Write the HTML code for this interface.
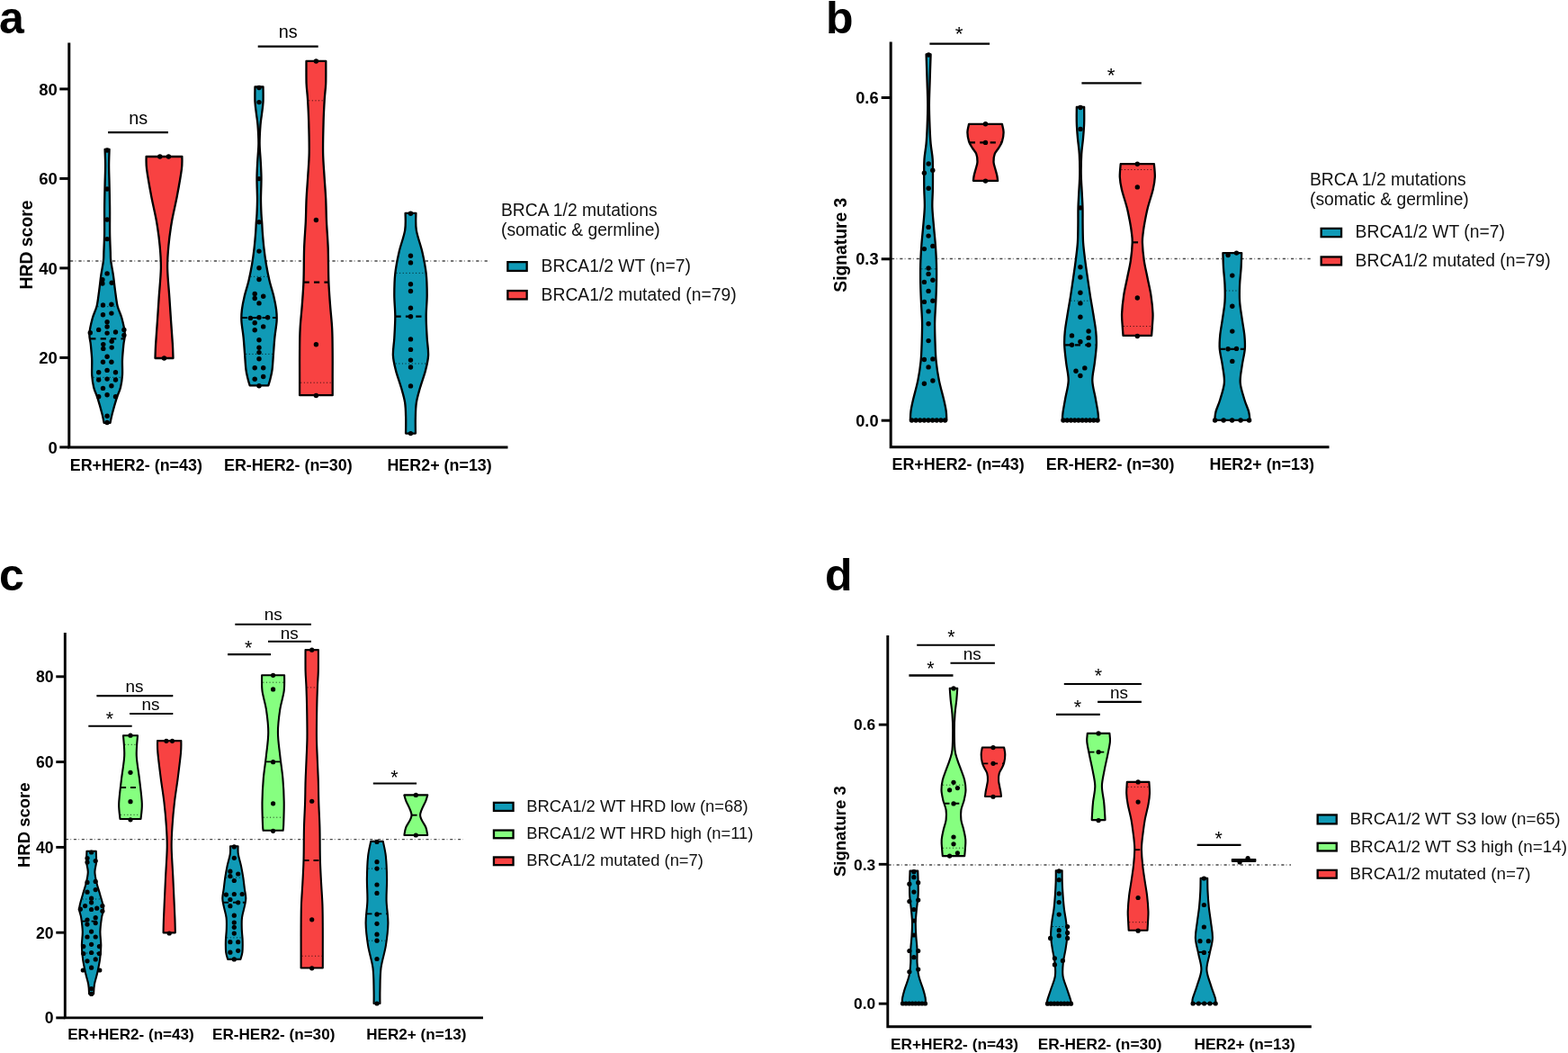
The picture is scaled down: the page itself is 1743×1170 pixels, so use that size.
<!DOCTYPE html>
<html><head><meta charset="utf-8"><title>Violin plots</title>
<style>
html,body{margin:0;padding:0;background:#fff;}
svg{display:block;filter:blur(0.45px);}
text{font-family:"Liberation Sans",Arial,Helvetica,sans-serif;}
</style></head><body>
<svg width="1743" height="1170" viewBox="0 0 1743 1170">
<rect width="1743" height="1170" fill="#fff"/>
<text x="-1" y="37" font-size="50" font-weight="bold" text-anchor="start" fill="#000">a</text>
<line x1="78" y1="290.1" x2="544" y2="290.1" stroke="#484848" stroke-width="1.5" stroke-dasharray="3.24 6.16"/>
<line x1="78" y1="290.1" x2="544" y2="290.1" stroke="#9a9a9a" stroke-width="1.5" stroke-dasharray="1.3 8.1" stroke-dashoffset="-5.26"/>
<path d="M116.6,166 L121.6,166 C121.52,169 121.1,177.5 121.1,184 C121.1,190.5 121.43,197 121.6,205 C121.77,213 122.02,223 122.1,232 C122.18,241 121.98,251 122.1,259 C122.22,267 122.62,274.83 122.82,280 C123.01,285.17 122.76,285.73 123.27,290 C123.78,294.27 125.09,300.13 125.88,305.6 C126.67,311.07 127.21,317.07 128,322.8 C128.79,328.53 129.37,334.88 130.6,340 C131.83,345.12 134.03,348.4 135.4,353.5 C136.77,358.6 138.47,365.75 138.8,370.6 C139.13,375.45 137.87,377.75 137.4,382.6 C136.93,387.45 136.23,394 136,399.7 C135.77,405.4 136.33,411.68 136,416.8 C135.67,421.92 135.05,426.13 134,430.4 C132.95,434.67 131.23,437.55 129.7,442.4 C128.17,447.25 125.99,454.93 124.8,459.5 C123.61,464.07 122.92,468.08 122.55,469.8 L115.65,469.8 C115.27,468.08 114.59,464.07 113.4,459.5 C112.21,454.93 110.03,447.25 108.5,442.4 C106.97,437.55 105.25,434.67 104.2,430.4 C103.15,426.13 102.53,421.92 102.2,416.8 C101.87,411.68 102.43,405.4 102.2,399.7 C101.97,394 101.27,387.45 100.8,382.6 C100.33,377.75 99.07,375.45 99.4,370.6 C99.73,365.75 101.43,358.6 102.8,353.5 C104.17,348.4 106.37,345.12 107.6,340 C108.83,334.88 109.41,328.53 110.2,322.8 C110.99,317.07 111.53,311.07 112.32,305.6 C113.11,300.13 114.42,294.27 114.93,290 C115.44,285.73 115.19,285.17 115.38,280 C115.57,274.83 115.98,267 116.1,259 C116.22,251 116.02,241 116.1,232 C116.18,223 116.43,213 116.6,205 C116.77,197 117.1,190.5 117.1,184 C117.1,177.5 116.68,169 116.6,166 Z" fill="#109AB6" stroke="#000" stroke-width="2.3" stroke-linejoin="round"/>
<line x1="108.5" y1="340.7" x2="129.7" y2="340.7" stroke="#000" stroke-width="1" stroke-dasharray="1 2.6" opacity="0.8"/>
<line x1="103.72" y1="419.3" x2="134.48" y2="419.3" stroke="#000" stroke-width="1" stroke-dasharray="1 2.6" opacity="0.8"/>
<line x1="100.26" y1="376.3" x2="137.94" y2="376.3" stroke="#000" stroke-width="2.2" stroke-dasharray="6.2 5.2"/>
<circle cx="119.1" cy="167" r="2.7"/>
<circle cx="119.1" cy="210" r="2.7"/>
<circle cx="119.1" cy="244" r="2.7"/>
<circle cx="119.1" cy="265.6" r="2.7"/>
<circle cx="119.1" cy="303.9" r="2.7"/>
<circle cx="113.9" cy="310.8" r="2.7"/>
<circle cx="113.9" cy="315" r="2.7"/>
<circle cx="124.2" cy="314.2" r="2.7"/>
<circle cx="114.5" cy="339" r="2.7"/>
<circle cx="123.9" cy="338.2" r="2.7"/>
<circle cx="114.5" cy="349.8" r="2.7"/>
<circle cx="123.9" cy="348.1" r="2.7"/>
<circle cx="119.1" cy="357.8" r="2.7"/>
<circle cx="119.1" cy="363" r="2.7"/>
<circle cx="109.7" cy="366.4" r="2.7"/>
<circle cx="100.3" cy="369.8" r="2.7"/>
<circle cx="119.1" cy="370.1" r="2.7"/>
<circle cx="128.5" cy="369" r="2.7"/>
<circle cx="137.9" cy="366.4" r="2.7"/>
<circle cx="137.9" cy="372.4" r="2.7"/>
<circle cx="114.8" cy="382.6" r="2.7"/>
<circle cx="114.8" cy="387.4" r="2.7"/>
<circle cx="124.2" cy="379.2" r="2.7"/>
<circle cx="124.2" cy="386.1" r="2.7"/>
<circle cx="119.1" cy="396.3" r="2.7"/>
<circle cx="114.5" cy="402.3" r="2.7"/>
<circle cx="123.9" cy="402.3" r="2.7"/>
<circle cx="109.7" cy="413.8" r="2.7"/>
<circle cx="119.1" cy="411.4" r="2.7"/>
<circle cx="128.5" cy="413.8" r="2.7"/>
<circle cx="109.7" cy="422" r="2.7"/>
<circle cx="119.1" cy="421.1" r="2.7"/>
<circle cx="128.5" cy="422" r="2.7"/>
<circle cx="114.5" cy="431.4" r="2.7"/>
<circle cx="123.9" cy="428.8" r="2.7"/>
<circle cx="109.7" cy="440.8" r="2.7"/>
<circle cx="119.1" cy="438.7" r="2.7"/>
<circle cx="128.5" cy="440.8" r="2.7"/>
<circle cx="119.1" cy="462.2" r="2.7"/>
<circle cx="119.1" cy="469.5" r="2.7"/>
<path d="M162.6,174 L202.4,174 C202.32,176.33 202.83,180.67 201.9,188 C200.97,195.33 198.62,208.33 196.8,218 C194.98,227.67 192.57,236.83 191,246 C189.43,255.17 188.2,264.33 187.39,273 C186.58,281.67 185.97,288.33 186.13,298 C186.29,307.67 187.72,321.17 188.38,331 C189.04,340.83 189.51,348.4 190.1,357 C190.69,365.6 191.5,375.77 191.9,382.6 C192.3,389.43 192.4,395.43 192.5,398 L172.5,398 C172.6,395.43 172.7,389.43 173.1,382.6 C173.5,375.77 174.31,365.6 174.9,357 C175.49,348.4 175.96,340.83 176.62,331 C177.28,321.17 178.71,307.67 178.87,298 C179.03,288.33 178.42,281.67 177.61,273 C176.8,264.33 175.57,255.17 174,246 C172.43,236.83 170.02,227.67 168.2,218 C166.38,208.33 164.03,195.33 163.1,188 C162.17,180.67 162.68,176.33 162.6,174 Z" fill="#F84242" stroke="#000" stroke-width="2.3" stroke-linejoin="round"/>
<circle cx="177.8" cy="174" r="2.7"/>
<circle cx="187.4" cy="174" r="2.7"/>
<circle cx="182.5" cy="398" r="2.7"/>
<path d="M283.47,96.5 L292.53,96.5 C292.53,99.28 292.78,108.13 292.53,113.2 C292.27,118.27 291.5,122.62 291,126.9 C290.5,131.18 289.9,133.48 289.5,138.9 C289.1,144.32 288.55,152.55 288.6,159.4 C288.65,166.25 289.48,173.47 289.8,180 C290.12,186.53 290.47,191.77 290.5,198.6 C290.53,205.43 290,214.43 290,221 C290,227.57 290.29,233.5 290.5,238 C290.71,242.5 291.05,244.67 291.27,248 C291.49,251.33 291.45,253.35 291.81,258 C292.17,262.65 292.75,269.93 293.43,275.9 C294.11,281.87 294.89,287.82 295.9,293.8 C296.91,299.78 298.08,305.82 299.5,311.8 C300.92,317.78 303.13,324.33 304.4,329.7 C305.67,335.07 306.57,339.52 307.1,344 C307.63,348.48 307.88,351.5 307.6,356.6 C307.32,361.7 306,368.62 305.4,374.6 C304.8,380.58 304.47,386.52 304,392.5 C303.53,398.48 303.2,405.72 302.6,410.5 C302,415.28 301.12,418.22 300.4,421.2 C299.68,424.18 298.65,427.2 298.3,428.4 L277.7,428.4 C277.35,427.2 276.32,424.18 275.6,421.2 C274.88,418.22 274,415.28 273.4,410.5 C272.8,405.72 272.47,398.48 272,392.5 C271.53,386.52 271.2,380.58 270.6,374.6 C270,368.62 268.68,361.7 268.4,356.6 C268.12,351.5 268.37,348.48 268.9,344 C269.43,339.52 270.33,335.07 271.6,329.7 C272.87,324.33 275.08,317.78 276.5,311.8 C277.92,305.82 279.09,299.78 280.1,293.8 C281.11,287.82 281.89,281.87 282.57,275.9 C283.25,269.93 283.83,262.65 284.19,258 C284.55,253.35 284.51,251.33 284.73,248 C284.95,244.67 285.29,242.5 285.5,238 C285.71,233.5 286,227.57 286,221 C286,214.43 285.47,205.43 285.5,198.6 C285.53,191.77 285.88,186.53 286.2,180 C286.52,173.47 287.35,166.25 287.4,159.4 C287.45,152.55 286.9,144.32 286.5,138.9 C286.1,133.48 285.5,131.18 285,126.9 C284.5,122.62 283.73,118.27 283.47,113.2 C283.22,108.13 283.47,99.28 283.47,96.5 Z" fill="#109AB6" stroke="#000" stroke-width="2.3" stroke-linejoin="round"/>
<line x1="278.55" y1="307.3" x2="297.45" y2="307.3" stroke="#000" stroke-width="1" stroke-dasharray="1 2.6" opacity="0.8"/>
<line x1="273.22" y1="393.4" x2="302.78" y2="393.4" stroke="#000" stroke-width="1" stroke-dasharray="1 2.6" opacity="0.8"/>
<line x1="268.74" y1="353" x2="307.26" y2="353" stroke="#000" stroke-width="2.2" stroke-dasharray="6.2 5.2"/>
<circle cx="288" cy="97.5" r="2.7"/>
<circle cx="288" cy="113.6" r="2.7"/>
<circle cx="288" cy="198.6" r="2.7"/>
<circle cx="288" cy="246.8" r="2.7"/>
<circle cx="288" cy="279.1" r="2.7"/>
<circle cx="288" cy="297.8" r="2.7"/>
<circle cx="288" cy="310.5" r="2.7"/>
<circle cx="283.2" cy="326.5" r="2.7"/>
<circle cx="283.2" cy="331.5" r="2.7"/>
<circle cx="292.7" cy="329.2" r="2.7"/>
<circle cx="288" cy="336.9" r="2.7"/>
<circle cx="278.4" cy="353.4" r="2.7"/>
<circle cx="288" cy="352.7" r="2.7"/>
<circle cx="297.6" cy="352.7" r="2.7"/>
<circle cx="283.2" cy="358.8" r="2.7"/>
<circle cx="292.7" cy="362.9" r="2.7"/>
<circle cx="283.2" cy="366.7" r="2.7"/>
<circle cx="288" cy="377.8" r="2.7"/>
<circle cx="288" cy="386.2" r="2.7"/>
<circle cx="288" cy="391.6" r="2.7"/>
<circle cx="288" cy="398.8" r="2.7"/>
<circle cx="283.2" cy="408.7" r="2.7"/>
<circle cx="292.7" cy="408.7" r="2.7"/>
<circle cx="283.2" cy="421.2" r="2.7"/>
<circle cx="292.7" cy="418.5" r="2.7"/>
<circle cx="288" cy="428.8" r="2.7"/>
<path d="M340.5,67.9 L362.3,67.9 C362.28,72.03 362.45,85.72 362.2,92.7 C361.95,99.68 361.23,102.68 360.8,109.8 C360.37,116.92 359.88,125.43 359.6,135.4 C359.32,145.37 358.95,159.63 359.1,169.6 C359.25,179.57 359.98,186.65 360.5,195.2 C361.02,203.75 361.78,212.35 362.2,220.9 C362.62,229.45 362.58,237.33 363,246.5 C363.42,255.67 364.32,265.02 364.7,275.9 C365.08,286.78 364.92,301.33 365.3,311.8 C365.68,322.27 366.35,329.73 367,338.7 C367.65,347.67 368.75,356.63 369.2,365.6 C369.65,374.57 369.62,383.53 369.7,392.5 C369.78,401.47 369.7,411.62 369.7,419.4 C369.7,427.18 369.7,435.9 369.7,439.2 L333.1,439.2 C333.1,435.9 333.1,427.18 333.1,419.4 C333.1,411.62 333.02,401.47 333.1,392.5 C333.18,383.53 333.15,374.57 333.6,365.6 C334.05,356.63 335.15,347.67 335.8,338.7 C336.45,329.73 337.12,322.27 337.5,311.8 C337.88,301.33 337.72,286.78 338.1,275.9 C338.48,265.02 339.38,255.67 339.8,246.5 C340.22,237.33 340.18,229.45 340.6,220.9 C341.02,212.35 341.78,203.75 342.3,195.2 C342.82,186.65 343.55,179.57 343.7,169.6 C343.85,159.63 343.48,145.37 343.2,135.4 C342.92,125.43 342.43,116.92 342,109.8 C341.57,102.68 340.85,99.68 340.6,92.7 C340.35,85.72 340.52,72.03 340.5,67.9 Z" fill="#F84242" stroke="#000" stroke-width="2.3" stroke-linejoin="round"/>
<line x1="343.24" y1="111.8" x2="359.56" y2="111.8" stroke="#000" stroke-width="1" stroke-dasharray="1 2.6" opacity="0.8"/>
<line x1="334.25" y1="425.2" x2="368.55" y2="425.2" stroke="#000" stroke-width="1" stroke-dasharray="1 2.6" opacity="0.8"/>
<line x1="337.59" y1="313.6" x2="365.21" y2="313.6" stroke="#000" stroke-width="2.2" stroke-dasharray="6.2 5.2"/>
<circle cx="351.4" cy="68" r="2.7"/>
<circle cx="351.4" cy="244.5" r="2.7"/>
<circle cx="351.4" cy="382.7" r="2.7"/>
<circle cx="351.4" cy="439.5" r="2.7"/>
<path d="M450.62,236.8 L462.38,236.8 C462.45,239.98 461.66,248.72 462.83,255.9 C464,263.08 467.59,271.92 469.4,279.9 C471.21,287.88 472.82,295.82 473.7,303.8 C474.58,311.78 474.7,319.82 474.7,327.8 C474.7,335.78 473.7,343.72 473.7,351.7 C473.7,359.68 474.3,368.5 474.7,375.7 C475.1,382.9 476.38,388.92 476.1,394.9 C475.82,400.88 474.52,405.62 473,411.6 C471.48,417.58 468.69,424.82 467,430.8 C465.31,436.78 463.69,441.8 462.83,447.5 C461.97,453.2 461.99,459.32 461.84,465 C461.69,470.68 461.92,478.83 461.93,481.6 L451.07,481.6 C451.08,478.83 451.31,470.68 451.16,465 C451.01,459.32 451.03,453.2 450.17,447.5 C449.31,441.8 447.69,436.78 446,430.8 C444.31,424.82 441.52,417.58 440,411.6 C438.48,405.62 437.18,400.88 436.9,394.9 C436.62,388.92 437.9,382.9 438.3,375.7 C438.7,368.5 439.3,359.68 439.3,351.7 C439.3,343.72 438.3,335.78 438.3,327.8 C438.3,319.82 438.42,311.78 439.3,303.8 C440.18,295.82 441.79,287.88 443.6,279.9 C445.41,271.92 449,263.08 450.17,255.9 C451.34,248.72 450.55,239.98 450.62,236.8 Z" fill="#109AB6" stroke="#000" stroke-width="2.3" stroke-linejoin="round"/>
<line x1="440.52" y1="303.4" x2="472.48" y2="303.4" stroke="#000" stroke-width="1" stroke-dasharray="1 2.6" opacity="0.8"/>
<line x1="439.74" y1="404" x2="473.26" y2="404" stroke="#000" stroke-width="1" stroke-dasharray="1 2.6" opacity="0.8"/>
<line x1="439.5" y1="351.7" x2="473.5" y2="351.7" stroke="#000" stroke-width="2.2" stroke-dasharray="6.2 5.2"/>
<circle cx="456.5" cy="237.2" r="2.7"/>
<circle cx="456.5" cy="284.2" r="2.7"/>
<circle cx="456.5" cy="291.9" r="2.7"/>
<circle cx="456.5" cy="315.8" r="2.7"/>
<circle cx="456.5" cy="323.5" r="2.7"/>
<circle cx="456.5" cy="342.2" r="2.7"/>
<circle cx="456.5" cy="351.7" r="2.7"/>
<circle cx="456.5" cy="376.9" r="2.7"/>
<circle cx="456.5" cy="388.4" r="2.7"/>
<circle cx="456.5" cy="400.1" r="2.7"/>
<circle cx="456.5" cy="408" r="2.7"/>
<circle cx="456.5" cy="428.9" r="2.7"/>
<circle cx="456.5" cy="481.6" r="2.7"/>
<path d="M76.8,47.5 L76.8,496.9 L564.5,496.9" fill="none" stroke="#000" stroke-width="3" stroke-linejoin="miter" stroke-linecap="butt"/>
<line x1="66.3" y1="496.9" x2="76.8" y2="496.9" stroke="#000" stroke-width="3"/>
<text x="63.9" y="503.56" font-size="18.5" font-weight="bold" text-anchor="end" fill="#000">0</text>
<line x1="66.3" y1="397.4" x2="76.8" y2="397.4" stroke="#000" stroke-width="3"/>
<text x="63.9" y="404.06" font-size="18.5" font-weight="bold" text-anchor="end" fill="#000">20</text>
<line x1="66.3" y1="297.9" x2="76.8" y2="297.9" stroke="#000" stroke-width="3"/>
<text x="63.9" y="304.56" font-size="18.5" font-weight="bold" text-anchor="end" fill="#000">40</text>
<line x1="66.3" y1="198.4" x2="76.8" y2="198.4" stroke="#000" stroke-width="3"/>
<text x="63.9" y="205.06" font-size="18.5" font-weight="bold" text-anchor="end" fill="#000">60</text>
<line x1="66.3" y1="98.9" x2="76.8" y2="98.9" stroke="#000" stroke-width="3"/>
<text x="63.9" y="105.56" font-size="18.5" font-weight="bold" text-anchor="end" fill="#000">80</text>
<text x="35.5" y="272" font-size="19.4" font-weight="bold" text-anchor="middle" transform="rotate(-90 35.5 272)" fill="#000">HRD score</text>
<text x="151.3" y="522.7" font-size="17.9" font-weight="bold" text-anchor="middle" fill="#000">ER+HER2- (n=43)</text>
<text x="320.3" y="522.7" font-size="17.9" font-weight="bold" text-anchor="middle" fill="#000">ER-HER2- (n=30)</text>
<text x="488.6" y="522.7" font-size="17.9" font-weight="bold" text-anchor="middle" fill="#000">HER2+ (n=13)</text>
<line x1="120.1" y1="147.1" x2="186.9" y2="147.1" stroke="#000" stroke-width="2.2"/>
<text x="153.75" y="137.8" font-size="19.8" text-anchor="middle" fill="#000">ns</text>
<line x1="286.7" y1="51.7" x2="353.7" y2="51.7" stroke="#000" stroke-width="2.2"/>
<text x="320.3" y="41.9" font-size="19.8" text-anchor="middle" fill="#000">ns</text>
<text x="557" y="240.2" font-size="19.3" text-anchor="start" fill="#111">BRCA 1/2 mutations</text>
<text x="557" y="261.9" font-size="19.3" text-anchor="start" fill="#111">(somatic &amp; germline)</text>
<rect x="564.35" y="291.15" width="21.3" height="9.8" fill="#109AB6" stroke="#000" stroke-width="2.3"/>
<text x="601.6" y="302.1" font-size="19.3" text-anchor="start" fill="#111">BRCA1/2 WT (n=7)</text>
<rect x="564.35" y="323.05" width="21.3" height="9.4" fill="#F84242" stroke="#000" stroke-width="2.3"/>
<text x="601.6" y="333.6" font-size="19.3" text-anchor="start" fill="#111">BRCA1/2 mutated (n=79)</text>
<text x="918" y="37" font-size="50" font-weight="bold" text-anchor="start" fill="#000">b</text>
<line x1="991" y1="287.5" x2="1457" y2="287.5" stroke="#484848" stroke-width="1.5" stroke-dasharray="3.19 6.06"/>
<line x1="991" y1="287.5" x2="1457" y2="287.5" stroke="#9a9a9a" stroke-width="1.5" stroke-dasharray="1.3 7.95" stroke-dashoffset="-5.18"/>
<path d="M1029.6,60.5 L1034.6,60.5 C1034.43,65.63 1033.88,81.88 1033.6,91.3 C1033.32,100.72 1032.9,108.45 1032.9,117 C1032.9,125.55 1033.32,135.48 1033.6,142.6 C1033.88,149.72 1034.08,154 1034.6,159.7 C1035.12,165.4 1036.32,171.08 1036.72,176.8 C1037.12,182.52 1036.96,188.3 1036.99,194 C1037.02,199.7 1037,205 1036.9,211 C1036.79,217 1036.18,223.27 1036.36,230 C1036.54,236.73 1037.39,244.27 1037.98,251.4 C1038.57,258.53 1039.4,265.68 1039.9,272.8 C1040.4,279.92 1040.82,286.98 1041,294.1 C1041.18,301.22 1041.13,308.37 1041,315.5 C1040.87,322.63 1040.51,329.77 1040.2,336.9 C1039.89,344.03 1039.26,351.18 1039.15,358.3 C1039.03,365.42 1039.27,372.48 1039.51,379.6 C1039.75,386.72 1039.88,393.87 1040.6,401 C1041.31,408.13 1042.38,415.27 1043.8,422.4 C1045.22,429.53 1047.78,438.1 1049.1,443.8 C1050.42,449.5 1051.17,452.75 1051.7,456.6 C1052.23,460.45 1052.2,465.18 1052.3,466.9 L1011.9,466.9 C1012,465.18 1011.97,460.45 1012.5,456.6 C1013.03,452.75 1013.78,449.5 1015.1,443.8 C1016.42,438.1 1018.98,429.53 1020.4,422.4 C1021.82,415.27 1022.88,408.13 1023.6,401 C1024.31,393.87 1024.45,386.72 1024.69,379.6 C1024.93,372.48 1025.16,365.42 1025.05,358.3 C1024.93,351.18 1024.31,344.03 1024,336.9 C1023.69,329.77 1023.33,322.63 1023.2,315.5 C1023.07,308.37 1023.02,301.22 1023.2,294.1 C1023.38,286.98 1023.8,279.92 1024.3,272.8 C1024.8,265.68 1025.63,258.53 1026.22,251.4 C1026.81,244.27 1027.66,236.73 1027.84,230 C1028.02,223.27 1027.4,217 1027.3,211 C1027.19,205 1027.18,199.7 1027.21,194 C1027.24,188.3 1027.08,182.52 1027.48,176.8 C1027.88,171.08 1029.08,165.4 1029.6,159.7 C1030.12,154 1030.32,149.72 1030.6,142.6 C1030.88,135.48 1031.3,125.55 1031.3,117 C1031.3,108.45 1030.88,100.72 1030.6,91.3 C1030.32,81.88 1029.77,65.63 1029.6,60.5 Z" fill="#109AB6" stroke="#000" stroke-width="2.3" stroke-linejoin="round"/>
<line x1="1024.35" y1="298.8" x2="1039.85" y2="298.8" stroke="#000" stroke-width="1" stroke-dasharray="1 2.6" opacity="0.8"/>
<circle cx="1032.2" cy="61" r="2.7"/>
<circle cx="1032.2" cy="182" r="2.7"/>
<circle cx="1027.4" cy="192.2" r="2.7"/>
<circle cx="1036.8" cy="189.3" r="2.7"/>
<circle cx="1032.2" cy="209.3" r="2.7"/>
<circle cx="1032.1" cy="252.4" r="2.7"/>
<circle cx="1032.1" cy="262.1" r="2.7"/>
<circle cx="1027.4" cy="276.6" r="2.7"/>
<circle cx="1036.9" cy="273.4" r="2.7"/>
<circle cx="1032.1" cy="298" r="2.7"/>
<circle cx="1032.1" cy="304.4" r="2.7"/>
<circle cx="1027.4" cy="313.4" r="2.7"/>
<circle cx="1036.9" cy="311.2" r="2.7"/>
<circle cx="1032.1" cy="323.4" r="2.7"/>
<circle cx="1027.4" cy="335.4" r="2.7"/>
<circle cx="1036.9" cy="334.3" r="2.7"/>
<circle cx="1032.1" cy="345.9" r="2.7"/>
<circle cx="1032.1" cy="359.8" r="2.7"/>
<circle cx="1032.1" cy="378.6" r="2.7"/>
<circle cx="1027.4" cy="399.5" r="2.7"/>
<circle cx="1036.9" cy="398.9" r="2.7"/>
<circle cx="1032.1" cy="407.9" r="2.7"/>
<circle cx="1027.4" cy="426.2" r="2.7"/>
<circle cx="1036.9" cy="423" r="2.7"/>
<circle cx="1013.5" cy="467" r="2.7"/>
<circle cx="1018.12" cy="467" r="2.7"/>
<circle cx="1022.75" cy="467" r="2.7"/>
<circle cx="1027.38" cy="467" r="2.7"/>
<circle cx="1032" cy="467" r="2.7"/>
<circle cx="1036.62" cy="467" r="2.7"/>
<circle cx="1041.25" cy="467" r="2.7"/>
<circle cx="1045.88" cy="467" r="2.7"/>
<circle cx="1050.5" cy="467" r="2.7"/>
<path d="M1077.1,137.8 L1113.9,137.8 C1114.18,139.35 1115.6,143.83 1115.6,147.1 C1115.6,150.37 1114.78,154.55 1113.9,157.4 C1113.02,160.25 1111.67,161.92 1110.3,164.2 C1108.93,166.48 1106.67,168.47 1105.7,171.1 C1104.73,173.73 1104.37,177.15 1104.5,180 C1104.63,182.85 1105.87,185.68 1106.5,188.2 C1107.13,190.72 1107.87,193 1108.3,195.1 C1108.73,197.2 1108.97,199.85 1109.1,200.8 L1081.9,200.8 C1082.03,199.85 1082.27,197.2 1082.7,195.1 C1083.13,193 1083.87,190.72 1084.5,188.2 C1085.13,185.68 1086.37,182.85 1086.5,180 C1086.63,177.15 1086.27,173.73 1085.3,171.1 C1084.33,168.47 1082.07,166.48 1080.7,164.2 C1079.33,161.92 1077.98,160.25 1077.1,157.4 C1076.22,154.55 1075.4,150.37 1075.4,147.1 C1075.4,143.83 1076.82,139.35 1077.1,137.8 Z" fill="#F84242" stroke="#000" stroke-width="2.3" stroke-linejoin="round"/>
<line x1="1077.83" y1="158.4" x2="1113.17" y2="158.4" stroke="#000" stroke-width="2.2" stroke-dasharray="6.2 5.2"/>
<circle cx="1095.5" cy="137.8" r="2.7"/>
<circle cx="1095.5" cy="158.4" r="2.7"/>
<circle cx="1095.5" cy="201.1" r="2.7"/>
<path d="M1196.83,119 L1205.17,119 C1205.17,121.98 1205.37,131.07 1205.17,136.9 C1204.98,142.73 1204.49,148.3 1204,154 C1203.51,159.7 1202.58,164.55 1202.2,171.1 C1201.82,177.65 1201.62,186.18 1201.7,193.3 C1201.78,200.42 1202.4,207.53 1202.7,213.8 C1203,220.07 1203.35,224.87 1203.5,230.9 C1203.65,236.93 1203.5,243.53 1203.6,250 C1203.7,256.47 1203.65,263.15 1204.09,269.7 C1204.53,276.25 1205.43,282.75 1206.25,289.3 C1207.07,295.85 1208.06,302.45 1209,309 C1209.94,315.55 1210.87,322.05 1211.9,328.6 C1212.93,335.15 1214.15,341.73 1215.2,348.3 C1216.25,354.87 1217.6,362.1 1218.2,368 C1218.8,373.9 1219.03,377.8 1218.8,383.7 C1218.57,389.6 1217.55,396.85 1216.8,403.4 C1216.05,409.95 1214.13,416.45 1214.3,423 C1214.47,429.55 1216.77,436.8 1217.8,442.7 C1218.83,448.6 1219.95,454.3 1220.5,458.4 C1221.05,462.5 1221,465.82 1221.1,467.3 L1180.9,467.3 C1181,465.82 1180.95,462.5 1181.5,458.4 C1182.05,454.3 1183.17,448.6 1184.2,442.7 C1185.23,436.8 1187.53,429.55 1187.7,423 C1187.87,416.45 1185.95,409.95 1185.2,403.4 C1184.45,396.85 1183.43,389.6 1183.2,383.7 C1182.97,377.8 1183.2,373.9 1183.8,368 C1184.4,362.1 1185.75,354.87 1186.8,348.3 C1187.85,341.73 1189.07,335.15 1190.1,328.6 C1191.13,322.05 1192.06,315.55 1193,309 C1193.94,302.45 1194.93,295.85 1195.75,289.3 C1196.57,282.75 1197.47,276.25 1197.91,269.7 C1198.35,263.15 1198.3,256.47 1198.4,250 C1198.5,243.53 1198.35,236.93 1198.5,230.9 C1198.65,224.87 1199,220.07 1199.3,213.8 C1199.6,207.53 1200.22,200.42 1200.3,193.3 C1200.38,186.18 1200.18,177.65 1199.8,171.1 C1199.42,164.55 1198.49,159.7 1198,154 C1197.51,148.3 1197.02,142.73 1196.83,136.9 C1196.63,131.07 1196.83,121.98 1196.83,119 Z" fill="#109AB6" stroke="#000" stroke-width="2.3" stroke-linejoin="round"/>
<line x1="1190.31" y1="334.2" x2="1211.69" y2="334.2" stroke="#000" stroke-width="1" stroke-dasharray="1 2.6" opacity="0.8"/>
<line x1="1183.42" y1="383.3" x2="1218.58" y2="383.3" stroke="#000" stroke-width="2.2" stroke-dasharray="6.2 5.2"/>
<circle cx="1201" cy="119.5" r="2.7"/>
<circle cx="1201" cy="143.4" r="2.7"/>
<circle cx="1201" cy="230.9" r="2.7"/>
<circle cx="1200.9" cy="296.8" r="2.7"/>
<circle cx="1200.9" cy="308" r="2.7"/>
<circle cx="1200.9" cy="325.3" r="2.7"/>
<circle cx="1200.9" cy="336.9" r="2.7"/>
<circle cx="1200.9" cy="352.2" r="2.7"/>
<circle cx="1191.5" cy="372.9" r="2.7"/>
<circle cx="1210.1" cy="368" r="2.7"/>
<circle cx="1210.1" cy="375.4" r="2.7"/>
<circle cx="1200.9" cy="379.8" r="2.7"/>
<circle cx="1191.5" cy="383.3" r="2.7"/>
<circle cx="1210.1" cy="383.3" r="2.7"/>
<circle cx="1196" cy="412.2" r="2.7"/>
<circle cx="1205.8" cy="408.9" r="2.7"/>
<circle cx="1200.9" cy="417.5" r="2.7"/>
<circle cx="1182" cy="467" r="2.7"/>
<circle cx="1186.22" cy="467" r="2.7"/>
<circle cx="1190.44" cy="467" r="2.7"/>
<circle cx="1194.67" cy="467" r="2.7"/>
<circle cx="1198.89" cy="467" r="2.7"/>
<circle cx="1203.11" cy="467" r="2.7"/>
<circle cx="1207.33" cy="467" r="2.7"/>
<circle cx="1211.56" cy="467" r="2.7"/>
<circle cx="1215.78" cy="467" r="2.7"/>
<circle cx="1220" cy="467" r="2.7"/>
<path d="M1245.7,182.2 L1282.9,182.2 C1283.05,184.63 1284,192.1 1283.8,196.8 C1283.6,201.5 1283.03,204.7 1281.7,210.4 C1280.37,216.1 1277.37,224.73 1275.8,231 C1274.23,237.27 1273.15,243.45 1272.3,248 C1271.45,252.55 1271.12,254.68 1270.72,258.3 C1270.32,261.92 1269.74,264.53 1269.91,269.7 C1270.07,274.87 1270.76,282.75 1271.71,289.3 C1272.66,295.85 1274.3,302.45 1275.6,309 C1276.9,315.55 1278.52,322.05 1279.5,328.6 C1280.48,335.15 1281.27,342.73 1281.5,348.3 C1281.73,353.87 1281.13,357.9 1280.9,362 C1280.67,366.1 1280.23,371.08 1280.1,372.9 L1248.5,372.9 C1248.37,371.08 1247.93,366.1 1247.7,362 C1247.47,357.9 1246.87,353.87 1247.1,348.3 C1247.33,342.73 1248.12,335.15 1249.1,328.6 C1250.08,322.05 1251.7,315.55 1253,309 C1254.3,302.45 1255.94,295.85 1256.89,289.3 C1257.84,282.75 1258.53,274.87 1258.69,269.7 C1258.86,264.53 1258.28,261.92 1257.88,258.3 C1257.48,254.68 1257.15,252.55 1256.3,248 C1255.45,243.45 1254.37,237.27 1252.8,231 C1251.23,224.73 1248.23,216.1 1246.9,210.4 C1245.57,204.7 1245,201.5 1244.8,196.8 C1244.6,192.1 1245.55,184.63 1245.7,182.2 Z" fill="#F84242" stroke="#000" stroke-width="2.3" stroke-linejoin="round"/>
<line x1="1246.46" y1="188.5" x2="1282.14" y2="188.5" stroke="#000" stroke-width="1" stroke-dasharray="1 2.6" opacity="0.8"/>
<line x1="1248.89" y1="362.5" x2="1279.71" y2="362.5" stroke="#000" stroke-width="1" stroke-dasharray="1 2.6" opacity="0.8"/>
<line x1="1258.86" y1="269.3" x2="1269.74" y2="269.3" stroke="#000" stroke-width="2.2" stroke-dasharray="6.2 5.2"/>
<circle cx="1264.3" cy="182.2" r="2.7"/>
<circle cx="1264.3" cy="207.9" r="2.7"/>
<circle cx="1264.3" cy="331" r="2.7"/>
<circle cx="1264.3" cy="373.5" r="2.7"/>
<path d="M1359.4,281.2 L1380.2,281.2 C1380.1,283.93 1379.95,291.73 1379.6,297.6 C1379.25,303.47 1378.35,310.13 1378.1,316.4 C1377.85,322.67 1377.68,328.93 1378.1,335.2 C1378.52,341.47 1379.72,347.73 1380.6,354 C1381.48,360.27 1382.87,367.17 1383.4,372.8 C1383.93,378.43 1384.27,382.17 1383.8,387.8 C1383.33,393.43 1381.45,400.33 1380.6,406.6 C1379.75,412.87 1378.23,419.13 1378.7,425.4 C1379.17,431.67 1381.83,438.87 1383.4,444.2 C1384.97,449.53 1387.1,453.63 1388.1,457.4 C1389.1,461.17 1389.18,465.23 1389.4,466.8 L1350.2,466.8 C1350.42,465.23 1350.5,461.17 1351.5,457.4 C1352.5,453.63 1354.63,449.53 1356.2,444.2 C1357.77,438.87 1360.43,431.67 1360.9,425.4 C1361.37,419.13 1359.85,412.87 1359,406.6 C1358.15,400.33 1356.27,393.43 1355.8,387.8 C1355.33,382.17 1355.67,378.43 1356.2,372.8 C1356.73,367.17 1358.12,360.27 1359,354 C1359.88,347.73 1361.08,341.47 1361.5,335.2 C1361.92,328.93 1361.75,322.67 1361.5,316.4 C1361.25,310.13 1360.35,303.47 1360,297.6 C1359.65,291.73 1359.5,283.93 1359.4,281.2 Z" fill="#109AB6" stroke="#000" stroke-width="2.3" stroke-linejoin="round"/>
<line x1="1362.65" y1="323" x2="1376.95" y2="323" stroke="#000" stroke-width="1" stroke-dasharray="1 2.6" opacity="0.8"/>
<line x1="1356" y1="387.8" x2="1383.6" y2="387.8" stroke="#000" stroke-width="2.2" stroke-dasharray="6.2 5.2"/>
<circle cx="1365.1" cy="283.5" r="2.7"/>
<circle cx="1374.5" cy="281.1" r="2.7"/>
<circle cx="1369.8" cy="306.1" r="2.7"/>
<circle cx="1369.8" cy="340.3" r="2.7"/>
<circle cx="1369.8" cy="368.1" r="2.7"/>
<circle cx="1365.1" cy="387.8" r="2.7"/>
<circle cx="1374.5" cy="387.4" r="2.7"/>
<circle cx="1369.8" cy="401.4" r="2.7"/>
<circle cx="1350.6" cy="467" r="2.7"/>
<circle cx="1360.1" cy="467" r="2.7"/>
<circle cx="1369.6" cy="467" r="2.7"/>
<circle cx="1379.1" cy="467" r="2.7"/>
<circle cx="1388.6" cy="467" r="2.7"/>
<path d="M990.2,46.5 L990.2,496.8 L1477.5,496.8" fill="none" stroke="#000" stroke-width="3" stroke-linejoin="miter" stroke-linecap="butt"/>
<line x1="979.7" y1="467.2" x2="990.2" y2="467.2" stroke="#000" stroke-width="3"/>
<text x="976.6" y="473.79" font-size="18.3" font-weight="bold" text-anchor="end" fill="#000">0.0</text>
<line x1="979.7" y1="287.8" x2="990.2" y2="287.8" stroke="#000" stroke-width="3"/>
<text x="976.6" y="294.39" font-size="18.3" font-weight="bold" text-anchor="end" fill="#000">0.3</text>
<line x1="979.7" y1="108.5" x2="990.2" y2="108.5" stroke="#000" stroke-width="3"/>
<text x="976.6" y="115.09" font-size="18.3" font-weight="bold" text-anchor="end" fill="#000">0.6</text>
<text x="941.2" y="272.2" font-size="19.3" font-weight="bold" text-anchor="middle" transform="rotate(-90 941.2 272.2)" fill="#000">Signature 3</text>
<text x="1065.1" y="521.6" font-size="17.9" font-weight="bold" text-anchor="middle" fill="#000">ER+HER2- (n=43)</text>
<text x="1234.2" y="521.6" font-size="17.9" font-weight="bold" text-anchor="middle" fill="#000">ER-HER2- (n=30)</text>
<text x="1402.7" y="521.6" font-size="17.9" font-weight="bold" text-anchor="middle" fill="#000">HER2+ (n=13)</text>
<line x1="1033.4" y1="48.6" x2="1100.1" y2="48.6" stroke="#000" stroke-width="2.2"/>
<text x="1066.2" y="44.81" font-size="22.5" text-anchor="middle" fill="#000">*</text>
<line x1="1202.4" y1="92.3" x2="1268.8" y2="92.3" stroke="#000" stroke-width="2.2"/>
<text x="1235.2" y="90.7" font-size="22.5" text-anchor="middle" fill="#000">*</text>
<text x="1456" y="206.1" font-size="19.3" text-anchor="start" fill="#111">BRCA 1/2 mutations</text>
<text x="1456" y="227.8" font-size="19.3" text-anchor="start" fill="#111">(somatic &amp; germline)</text>
<rect x="1468.65" y="253.85" width="22.4" height="9.3" fill="#109AB6" stroke="#000" stroke-width="2.3"/>
<text x="1506.6" y="264.3" font-size="19.3" text-anchor="start" fill="#111">BRCA1/2 WT (n=7)</text>
<rect x="1468.65" y="285.45" width="22.4" height="9" fill="#F84242" stroke="#000" stroke-width="2.3"/>
<text x="1506.6" y="295.6" font-size="19.3" text-anchor="start" fill="#111">BRCA1/2 mutated (n=79)</text>
<text x="-1" y="656" font-size="50" font-weight="bold" text-anchor="start" fill="#000">c</text>
<line x1="73" y1="932.6" x2="514.5" y2="932.6" stroke="#484848" stroke-width="1.45" stroke-dasharray="3.07 5.83"/>
<line x1="73" y1="932.6" x2="514.5" y2="932.6" stroke="#9a9a9a" stroke-width="1.45" stroke-dasharray="1.3 7.6" stroke-dashoffset="-4.98"/>
<path d="M96.44,945.8 L106.76,945.8 C106.8,947.85 107.25,954.25 107.03,958.1 C106.81,961.95 105.33,965.05 105.41,968.9 C105.48,972.75 106.53,977.1 107.48,981.2 C108.43,985.3 109.85,988.88 111.1,993.5 C112.35,998.12 114.68,1004.53 115,1008.9 C115.32,1013.27 113.6,1015.33 113,1019.7 C112.4,1024.07 111.52,1029.97 111.4,1035.1 C111.28,1040.23 112.35,1045.37 112.3,1050.5 C112.25,1055.63 111.8,1060.77 111.1,1065.9 C110.4,1071.03 109.13,1076.67 108.11,1081.3 C107.09,1085.93 105.63,1089.85 104.96,1093.7 C104.29,1097.55 104.24,1102.62 104.1,1104.4 L99.1,1104.4 C98.96,1102.62 98.91,1097.55 98.24,1093.7 C97.57,1089.85 96.11,1085.93 95.09,1081.3 C94.07,1076.67 92.8,1071.03 92.1,1065.9 C91.4,1060.77 90.95,1055.63 90.9,1050.5 C90.85,1045.37 91.92,1040.23 91.8,1035.1 C91.68,1029.97 90.8,1024.07 90.2,1019.7 C89.6,1015.33 87.88,1013.27 88.2,1008.9 C88.52,1004.53 90.85,998.12 92.1,993.5 C93.35,988.88 94.77,985.3 95.72,981.2 C96.67,977.1 97.71,972.75 97.79,968.9 C97.86,965.05 96.39,961.95 96.17,958.1 C95.94,954.25 96.39,947.85 96.44,945.8 Z" fill="#109AB6" stroke="#000" stroke-width="2.1" stroke-linejoin="round"/>
<line x1="91.76" y1="999" x2="111.44" y2="999" stroke="#000" stroke-width="1" stroke-dasharray="1 2.6" opacity="0.8"/>
<line x1="92.61" y1="1059" x2="110.59" y2="1059" stroke="#000" stroke-width="1" stroke-dasharray="1 2.6" opacity="0.8"/>
<line x1="90.81" y1="1023.6" x2="112.39" y2="1023.6" stroke="#000" stroke-width="1.9" stroke-dasharray="5.9 4.9"/>
<circle cx="101.6" cy="947" r="2.6"/>
<circle cx="97" cy="953.5" r="2.6"/>
<circle cx="97" cy="958.1" r="2.6"/>
<circle cx="106.2" cy="956.6" r="2.6"/>
<circle cx="97" cy="980.4" r="2.6"/>
<circle cx="106.2" cy="979.4" r="2.6"/>
<circle cx="97" cy="991.2" r="2.6"/>
<circle cx="106.2" cy="988.6" r="2.6"/>
<circle cx="101.6" cy="998.2" r="2.6"/>
<circle cx="101.6" cy="1002.8" r="2.6"/>
<circle cx="94.6" cy="1006.6" r="2.6"/>
<circle cx="89.3" cy="1010.2" r="2.6"/>
<circle cx="101.6" cy="1010.5" r="2.6"/>
<circle cx="107.7" cy="1009.2" r="2.6"/>
<circle cx="113.9" cy="1006.6" r="2.6"/>
<circle cx="113.9" cy="1012.3" r="2.6"/>
<circle cx="97" cy="1022" r="2.6"/>
<circle cx="97" cy="1027.1" r="2.6"/>
<circle cx="106.2" cy="1019.7" r="2.6"/>
<circle cx="106.2" cy="1025.6" r="2.6"/>
<circle cx="101.6" cy="1035.1" r="2.6"/>
<circle cx="97" cy="1041" r="2.6"/>
<circle cx="106.2" cy="1041" r="2.6"/>
<circle cx="101.6" cy="1049.3" r="2.6"/>
<circle cx="92.8" cy="1051.6" r="2.6"/>
<circle cx="110.4" cy="1051.6" r="2.6"/>
<circle cx="92.8" cy="1059.5" r="2.6"/>
<circle cx="101.6" cy="1058.5" r="2.6"/>
<circle cx="110.4" cy="1059.5" r="2.6"/>
<circle cx="97" cy="1067.8" r="2.6"/>
<circle cx="106.2" cy="1065.9" r="2.6"/>
<circle cx="101.6" cy="1075.2" r="2.6"/>
<circle cx="92.3" cy="1078" r="2.6"/>
<circle cx="110.8" cy="1078" r="2.6"/>
<circle cx="101.6" cy="1098.6" r="2.6"/>
<circle cx="101.6" cy="1104.4" r="2.6"/>
<path d="M137,817.2 L153,817.2 C152.8,820.97 151.43,831.62 151.78,839.8 C152.13,847.98 154.1,857.47 155.1,866.3 C156.1,875.13 157.57,885.52 157.8,892.8 C158.03,900.08 156.72,907.13 156.5,910 L133.5,910 C133.28,907.13 131.97,900.08 132.2,892.8 C132.43,885.52 133.9,875.13 134.9,866.3 C135.9,857.47 137.87,847.98 138.22,839.8 C138.57,831.62 137.2,820.97 137,817.2 Z" fill="#86FF80" stroke="#000" stroke-width="2.1" stroke-linejoin="round"/>
<line x1="138.6" y1="827.3" x2="151.4" y2="827.3" stroke="#000" stroke-width="1" stroke-dasharray="1 2.6" opacity="0.8"/>
<line x1="134.19" y1="905.3" x2="155.81" y2="905.3" stroke="#000" stroke-width="1" stroke-dasharray="1 2.6" opacity="0.8"/>
<line x1="134.21" y1="875" x2="155.79" y2="875" stroke="#000" stroke-width="1.9" stroke-dasharray="5.9 4.9"/>
<circle cx="145" cy="817.2" r="2.6"/>
<circle cx="145" cy="858.3" r="2.6"/>
<circle cx="145" cy="890.7" r="2.6"/>
<circle cx="145" cy="910.8" r="2.6"/>
<path d="M175.03,823.11 L201.37,823.11 C201.31,825.33 201.66,829.46 201.03,836.44 C200.41,843.42 198.8,855.8 197.62,865 C196.43,874.2 194.93,882.93 193.93,891.65 C192.92,900.38 192.12,909.11 191.58,917.36 C191.03,925.61 190.57,931.95 190.68,941.16 C190.79,950.36 191.79,963.21 192.24,972.57 C192.69,981.93 193.01,989.13 193.38,997.32 C193.76,1005.51 194.23,1015.19 194.47,1021.69 C194.71,1028.2 194.77,1033.91 194.83,1036.35 L181.57,1036.35 C181.63,1033.91 181.69,1028.2 181.93,1021.69 C182.17,1015.19 182.64,1005.51 183.02,997.32 C183.39,989.13 183.71,981.93 184.16,972.57 C184.61,963.21 185.61,950.36 185.72,941.16 C185.83,931.95 185.37,925.61 184.82,917.36 C184.28,909.11 183.48,900.38 182.47,891.65 C181.47,882.93 179.97,874.2 178.78,865 C177.6,855.8 175.99,843.42 175.37,836.44 C174.74,829.46 175.09,825.33 175.03,823.11 Z" fill="#F84242" stroke="#000" stroke-width="2.1" stroke-linejoin="round"/>
<circle cx="184.9" cy="823.3" r="2.6"/>
<circle cx="191.5" cy="823.3" r="2.6"/>
<circle cx="188.2" cy="1037" r="2.6"/>
<path d="M256.04,940.3 L264.56,940.3 C264.61,941.78 264.26,945.57 264.83,949.2 C265.4,952.83 267.09,957.82 268,962.1 C268.91,966.38 269.65,970.63 270.3,974.9 C270.95,979.17 271.4,983.85 271.9,987.7 C272.4,991.55 273.3,994.8 273.3,998 C273.3,1001.2 272.62,1003.28 271.9,1006.9 C271.18,1010.52 269.52,1015.42 269,1019.7 C268.48,1023.98 268.68,1028.32 268.8,1032.6 C268.92,1036.88 269.6,1041.13 269.7,1045.4 C269.8,1049.67 269.79,1054.78 269.4,1058.2 C269.01,1061.62 267.69,1064.62 267.35,1065.9 L253.25,1065.9 C252.91,1064.62 251.59,1061.62 251.2,1058.2 C250.81,1054.78 250.8,1049.67 250.9,1045.4 C251,1041.13 251.68,1036.88 251.8,1032.6 C251.92,1028.32 252.12,1023.98 251.6,1019.7 C251.08,1015.42 249.42,1010.52 248.7,1006.9 C247.98,1003.28 247.3,1001.2 247.3,998 C247.3,994.8 248.2,991.55 248.7,987.7 C249.2,983.85 249.65,979.17 250.3,974.9 C250.95,970.63 251.69,966.38 252.6,962.1 C253.51,957.82 255.2,952.83 255.77,949.2 C256.34,945.57 256,941.78 256.04,940.3 Z" fill="#109AB6" stroke="#000" stroke-width="2.1" stroke-linejoin="round"/>
<line x1="251.33" y1="975.1" x2="269.28" y2="975.1" stroke="#000" stroke-width="1" stroke-dasharray="1 2.6" opacity="0.8"/>
<line x1="252.2" y1="1041.9" x2="268.4" y2="1041.9" stroke="#000" stroke-width="1" stroke-dasharray="1 2.6" opacity="0.8"/>
<line x1="248.26" y1="1002.8" x2="272.34" y2="1002.8" stroke="#000" stroke-width="1.9" stroke-dasharray="5.9 4.9"/>
<circle cx="260.3" cy="940.9" r="2.6"/>
<circle cx="260.3" cy="953.3" r="2.6"/>
<circle cx="255.9" cy="968.2" r="2.6"/>
<circle cx="255.9" cy="973.6" r="2.6"/>
<circle cx="264.7" cy="971" r="2.6"/>
<circle cx="260.3" cy="978.5" r="2.6"/>
<circle cx="251.4" cy="994.1" r="2.6"/>
<circle cx="260.3" cy="993.5" r="2.6"/>
<circle cx="269.2" cy="993.5" r="2.6"/>
<circle cx="255.9" cy="999.5" r="2.6"/>
<circle cx="264.7" cy="1002.8" r="2.6"/>
<circle cx="255.9" cy="1006.7" r="2.6"/>
<circle cx="260.3" cy="1017.2" r="2.6"/>
<circle cx="260.3" cy="1025.1" r="2.6"/>
<circle cx="260.3" cy="1030.3" r="2.6"/>
<circle cx="260.3" cy="1037.1" r="2.6"/>
<circle cx="255.9" cy="1046.7" r="2.6"/>
<circle cx="264.7" cy="1046.7" r="2.6"/>
<circle cx="255.9" cy="1058.2" r="2.6"/>
<circle cx="264.7" cy="1056.3" r="2.6"/>
<circle cx="260.3" cy="1065.9" r="2.6"/>
<path d="M291.1,750.3 L316.1,750.3 C316.03,753.2 316.5,761.38 315.7,767.7 C314.9,774.02 312.43,780.52 311.3,788.2 C310.17,795.88 308.94,805.25 308.94,813.8 C308.94,822.35 310.39,830.95 311.3,839.5 C312.21,848.05 313.67,856.55 314.4,865.1 C315.13,873.65 315.57,882.25 315.7,890.8 C315.83,899.35 315.38,911.07 315.2,916.4 C315.02,921.73 314.7,921.73 314.6,922.8 L292.6,922.8 C292.5,921.73 292.18,921.73 292,916.4 C291.82,911.07 291.37,899.35 291.5,890.8 C291.63,882.25 292.07,873.65 292.8,865.1 C293.53,856.55 294.99,848.05 295.9,839.5 C296.81,830.95 298.26,822.35 298.26,813.8 C298.26,805.25 297.03,795.88 295.9,788.2 C294.77,780.52 292.3,774.02 291.5,767.7 C290.7,761.38 291.17,753.2 291.1,750.3 Z" fill="#86FF80" stroke="#000" stroke-width="2.1" stroke-linejoin="round"/>
<line x1="292.33" y1="758.2" x2="314.87" y2="758.2" stroke="#000" stroke-width="1" stroke-dasharray="1 2.6" opacity="0.8"/>
<line x1="292.89" y1="908.2" x2="314.31" y2="908.2" stroke="#000" stroke-width="1" stroke-dasharray="1 2.6" opacity="0.8"/>
<line x1="295.26" y1="846.4" x2="311.94" y2="846.4" stroke="#000" stroke-width="1.9" stroke-dasharray="5.9 4.9"/>
<circle cx="303.6" cy="750.3" r="2.6"/>
<circle cx="303.6" cy="765.9" r="2.6"/>
<circle cx="303.6" cy="846.7" r="2.6"/>
<circle cx="303.6" cy="892.8" r="2.6"/>
<circle cx="303.6" cy="923.3" r="2.6"/>
<path d="M339.53,722.11 L353.87,722.11 C353.86,726.04 353.96,739.07 353.81,745.72 C353.66,752.37 353.23,755.22 352.97,762 C352.71,768.77 352.42,776.88 352.25,786.37 C352.08,795.85 351.85,809.44 351.94,818.92 C352.04,828.41 352.48,835.15 352.79,843.29 C353.1,851.43 353.56,859.62 353.81,867.76 C354.07,875.9 354.03,883.4 354.31,892.13 C354.58,900.86 355.19,909.76 355.45,920.12 C355.7,930.48 355.59,944.33 355.85,954.29 C356.1,964.26 356.55,971.36 356.99,979.9 C357.42,988.44 358.16,996.97 358.46,1005.51 C358.76,1014.04 358.74,1022.58 358.8,1031.12 C358.85,1039.65 358.8,1049.31 358.8,1056.72 C358.8,1064.13 358.8,1072.43 358.8,1075.57 L334.6,1075.57 C334.6,1072.43 334.6,1064.13 334.6,1056.72 C334.6,1049.31 334.55,1039.65 334.6,1031.12 C334.66,1022.58 334.64,1014.04 334.94,1005.51 C335.24,996.97 335.98,988.44 336.41,979.9 C336.85,971.36 337.3,964.26 337.55,954.29 C337.81,944.33 337.7,930.48 337.95,920.12 C338.21,909.76 338.82,900.86 339.09,892.13 C339.37,883.4 339.33,875.9 339.59,867.76 C339.84,859.62 340.3,851.43 340.61,843.29 C340.92,835.15 341.36,828.41 341.46,818.92 C341.55,809.44 341.32,795.85 341.15,786.37 C340.98,776.88 340.69,768.77 340.43,762 C340.17,755.22 339.74,752.37 339.59,745.72 C339.44,739.07 339.54,726.04 339.53,722.11 Z" fill="#F84242" stroke="#000" stroke-width="2.1" stroke-linejoin="round"/>
<line x1="341.54" y1="763.9" x2="351.86" y2="763.9" stroke="#000" stroke-width="1" stroke-dasharray="1 2.6" opacity="0.8"/>
<line x1="335.65" y1="1062.24" x2="357.75" y2="1062.24" stroke="#000" stroke-width="1" stroke-dasharray="1 2.6" opacity="0.8"/>
<line x1="337.68" y1="956.01" x2="355.72" y2="956.01" stroke="#000" stroke-width="1.9" stroke-dasharray="5.9 4.9"/>
<circle cx="346.7" cy="722.2" r="2.6"/>
<circle cx="346.7" cy="890.23" r="2.6"/>
<circle cx="346.7" cy="1021.79" r="2.6"/>
<circle cx="346.7" cy="1075.86" r="2.6"/>
<path d="M412.22,934.9 L425.78,934.9 C426.3,937.67 428.18,944.6 428.9,951.5 C429.62,958.4 429.98,968.05 430.1,976.3 C430.22,984.55 429.38,992.75 429.6,1001 C429.82,1009.25 431.52,1017.53 431.4,1025.8 C431.28,1034.07 430.21,1042.33 428.9,1050.6 C427.59,1058.87 424.6,1067.13 423.53,1075.4 C422.45,1083.67 422.63,1093.6 422.45,1100.2 C422.27,1106.8 422.45,1112.53 422.45,1115 L415.55,1115 C415.55,1112.53 415.73,1106.8 415.55,1100.2 C415.37,1093.6 415.55,1083.67 414.47,1075.4 C413.4,1067.13 410.41,1058.87 409.1,1050.6 C407.79,1042.33 406.72,1034.07 406.6,1025.8 C406.48,1017.53 408.18,1009.25 408.4,1001 C408.62,992.75 407.78,984.55 407.9,976.3 C408.02,968.05 408.38,958.4 409.1,951.5 C409.82,944.6 411.7,937.67 412.22,934.9 Z" fill="#109AB6" stroke="#000" stroke-width="2.1" stroke-linejoin="round"/>
<line x1="409.49" y1="965.1" x2="428.51" y2="965.1" stroke="#000" stroke-width="1" stroke-dasharray="1 2.6" opacity="0.8"/>
<line x1="409.61" y1="1045.2" x2="428.39" y2="1045.2" stroke="#000" stroke-width="1" stroke-dasharray="1 2.6" opacity="0.8"/>
<line x1="407.55" y1="1015.4" x2="430.45" y2="1015.4" stroke="#000" stroke-width="1.9" stroke-dasharray="5.9 4.9"/>
<circle cx="419" cy="935.4" r="2.6"/>
<circle cx="419" cy="957.7" r="2.6"/>
<circle cx="419" cy="965.1" r="2.6"/>
<circle cx="419" cy="983" r="2.6"/>
<circle cx="419" cy="992.4" r="2.6"/>
<circle cx="419" cy="1015.9" r="2.6"/>
<circle cx="419" cy="1026.3" r="2.6"/>
<circle cx="419" cy="1038.2" r="2.6"/>
<circle cx="419" cy="1045.2" r="2.6"/>
<circle cx="419" cy="1065.5" r="2.6"/>
<circle cx="419" cy="1115" r="2.6"/>
<path d="M449.3,883.4 L475.3,883.4 C474.98,884.43 474.77,885.88 473.4,889.6 C472.03,893.32 467.1,900.75 467.1,905.7 C467.1,910.65 472.05,915.58 473.4,919.3 C474.75,923.02 474.9,926.55 475.2,928 L449.4,928 C449.7,926.55 449.85,923.02 451.2,919.3 C452.55,915.58 457.5,910.65 457.5,905.7 C457.5,900.75 452.57,893.32 451.2,889.6 C449.83,885.88 449.62,884.43 449.3,883.4 Z" fill="#86FF80" stroke="#000" stroke-width="2.1" stroke-linejoin="round"/>
<line x1="457.7" y1="905.7" x2="466.9" y2="905.7" stroke="#000" stroke-width="1.9" stroke-dasharray="5.9 4.9"/>
<circle cx="462.3" cy="883.4" r="2.6"/>
<circle cx="462.3" cy="928" r="2.6"/>
<path d="M72.3,703 L72.3,1130.9 L537,1130.9" fill="none" stroke="#000" stroke-width="2.9" stroke-linejoin="miter" stroke-linecap="butt"/>
<line x1="62.3" y1="1130.9" x2="72.3" y2="1130.9" stroke="#000" stroke-width="2.9"/>
<text x="59.5" y="1137.24" font-size="17.6" font-weight="bold" text-anchor="end" fill="#000">0</text>
<line x1="62.3" y1="1036.2" x2="72.3" y2="1036.2" stroke="#000" stroke-width="2.9"/>
<text x="59.5" y="1042.54" font-size="17.6" font-weight="bold" text-anchor="end" fill="#000">20</text>
<line x1="62.3" y1="941.4" x2="72.3" y2="941.4" stroke="#000" stroke-width="2.9"/>
<text x="59.5" y="947.74" font-size="17.6" font-weight="bold" text-anchor="end" fill="#000">40</text>
<line x1="62.3" y1="846.6" x2="72.3" y2="846.6" stroke="#000" stroke-width="2.9"/>
<text x="59.5" y="852.94" font-size="17.6" font-weight="bold" text-anchor="end" fill="#000">60</text>
<line x1="62.3" y1="751.8" x2="72.3" y2="751.8" stroke="#000" stroke-width="2.9"/>
<text x="59.5" y="758.14" font-size="17.6" font-weight="bold" text-anchor="end" fill="#000">80</text>
<text x="33" y="916.7" font-size="18.5" font-weight="bold" text-anchor="middle" transform="rotate(-90 33 916.7)" fill="#000">HRD score</text>
<text x="145.5" y="1155.2" font-size="17.1" font-weight="bold" text-anchor="middle" fill="#000">ER+HER2- (n=43)</text>
<text x="304.2" y="1155.2" font-size="17.1" font-weight="bold" text-anchor="middle" fill="#000">ER-HER2- (n=30)</text>
<text x="462.8" y="1155.2" font-size="17.1" font-weight="bold" text-anchor="middle" fill="#000">HER2+ (n=13)</text>
<line x1="107.4" y1="773.1" x2="192.3" y2="773.1" stroke="#000" stroke-width="2.1"/>
<text x="149.5" y="768.7" font-size="18.9" text-anchor="middle" fill="#000">ns</text>
<line x1="144.1" y1="793" x2="192.3" y2="793" stroke="#000" stroke-width="2.1"/>
<text x="167.6" y="789.3" font-size="18.9" text-anchor="middle" fill="#000">ns</text>
<line x1="98.3" y1="806.8" x2="146.7" y2="806.8" stroke="#000" stroke-width="2.1"/>
<text x="121.8" y="805.53" font-size="21.4" text-anchor="middle" fill="#000">*</text>
<line x1="261.3" y1="693.8" x2="345.9" y2="693.8" stroke="#000" stroke-width="2.1"/>
<text x="303.8" y="688.8" font-size="18.9" text-anchor="middle" fill="#000">ns</text>
<line x1="298" y1="712.7" x2="345.9" y2="712.7" stroke="#000" stroke-width="2.1"/>
<text x="321.8" y="709.5" font-size="18.9" text-anchor="middle" fill="#000">ns</text>
<line x1="253.1" y1="727.1" x2="301" y2="727.1" stroke="#000" stroke-width="2.1"/>
<text x="276.1" y="727.13" font-size="21.4" text-anchor="middle" fill="#000">*</text>
<line x1="414.8" y1="870.5" x2="463.1" y2="870.5" stroke="#000" stroke-width="2.1"/>
<text x="438.3" y="870.73" font-size="21.4" text-anchor="middle" fill="#000">*</text>
<rect x="548.95" y="891.85" width="21.6" height="9.1" fill="#109AB6" stroke="#000" stroke-width="2.3"/>
<text x="585.2" y="902.1" font-size="18.4" text-anchor="start" fill="#111">BRCA1/2 WT HRD low (n=68)</text>
<rect x="548.95" y="922.55" width="21.6" height="8.7" fill="#86FF80" stroke="#000" stroke-width="2.3"/>
<text x="585.2" y="932.1" font-size="18.4" text-anchor="start" fill="#111">BRCA1/2 WT HRD high (n=11)</text>
<rect x="548.95" y="952.45" width="21.6" height="8.7" fill="#F84242" stroke="#000" stroke-width="2.3"/>
<text x="585.2" y="961.8" font-size="18.4" text-anchor="start" fill="#111">BRCA1/2 mutated (n=7)</text>
<text x="917" y="656" font-size="50" font-weight="bold" text-anchor="start" fill="#000">d</text>
<line x1="987.5" y1="960.9" x2="1435" y2="960.9" stroke="#484848" stroke-width="1.45" stroke-dasharray="3.14 5.96"/>
<line x1="987.5" y1="960.9" x2="1435" y2="960.9" stroke="#9a9a9a" stroke-width="1.45" stroke-dasharray="1.3 7.8" stroke-dashoffset="-5.1"/>
<path d="M1011.55,967.6 L1020.25,967.6 C1020.31,969.65 1020.55,975.35 1020.61,979.9 C1020.67,984.45 1020.88,989.92 1020.61,994.9 C1020.34,999.88 1019.46,1004.82 1018.99,1009.8 C1018.52,1014.78 1017.91,1019.82 1017.8,1024.8 C1017.68,1029.78 1018.01,1034.72 1018.3,1039.7 C1018.59,1044.68 1019.32,1049.7 1019.53,1054.7 C1019.74,1059.7 1019.23,1064.72 1019.53,1069.7 C1019.83,1074.68 1020.2,1079.62 1021.33,1084.6 C1022.46,1089.58 1025.09,1095.62 1026.3,1099.6 C1027.51,1103.58 1028.15,1105.93 1028.6,1108.5 C1029.05,1111.07 1028.93,1113.92 1029,1115 L1002.8,1115 C1002.87,1113.92 1002.75,1111.07 1003.2,1108.5 C1003.65,1105.93 1004.29,1103.58 1005.5,1099.6 C1006.71,1095.62 1009.34,1089.58 1010.47,1084.6 C1011.6,1079.62 1011.97,1074.68 1012.27,1069.7 C1012.57,1064.72 1012.06,1059.7 1012.27,1054.7 C1012.48,1049.7 1013.21,1044.68 1013.5,1039.7 C1013.79,1034.72 1014.12,1029.78 1014,1024.8 C1013.88,1019.82 1013.28,1014.78 1012.81,1009.8 C1012.34,1004.82 1011.46,999.88 1011.19,994.9 C1010.92,989.92 1011.13,984.45 1011.19,979.9 C1011.25,975.35 1011.49,969.65 1011.55,967.6 Z" fill="#109AB6" stroke="#000" stroke-width="2.1" stroke-linejoin="round"/>
<circle cx="1015.9" cy="968.7" r="2.6"/>
<circle cx="1015.9" cy="974.7" r="2.6"/>
<circle cx="1010.9" cy="982.2" r="2.6"/>
<circle cx="1020.7" cy="980.7" r="2.6"/>
<circle cx="1015.9" cy="991.1" r="2.6"/>
<circle cx="1010.9" cy="1001.6" r="2.6"/>
<circle cx="1020.7" cy="1000.1" r="2.6"/>
<circle cx="1015.9" cy="1010.6" r="2.6"/>
<circle cx="1015.9" cy="1023" r="2.6"/>
<circle cx="1015.9" cy="1039" r="2.6"/>
<circle cx="1010.9" cy="1056.5" r="2.6"/>
<circle cx="1020.7" cy="1056.5" r="2.6"/>
<circle cx="1015.9" cy="1063.7" r="2.6"/>
<circle cx="1010.9" cy="1079.8" r="2.6"/>
<circle cx="1020.7" cy="1077.1" r="2.6"/>
<circle cx="1003.5" cy="1115" r="2.6"/>
<circle cx="1007.07" cy="1115" r="2.6"/>
<circle cx="1010.64" cy="1115" r="2.6"/>
<circle cx="1014.21" cy="1115" r="2.6"/>
<circle cx="1017.79" cy="1115" r="2.6"/>
<circle cx="1021.36" cy="1115" r="2.6"/>
<circle cx="1024.93" cy="1115" r="2.6"/>
<circle cx="1028.5" cy="1115" r="2.6"/>
<path d="M1055.74,764.9 L1064.26,764.9 C1064.1,767.05 1063.73,773.07 1063.27,777.8 C1062.81,782.53 1061.91,787.75 1061.5,793.3 C1061.09,798.85 1060.8,804.43 1060.8,811.1 C1060.8,817.77 1060.92,827.75 1061.5,833.3 C1062.08,838.85 1063.11,840.68 1064.26,844.4 C1065.41,848.12 1067.08,851.88 1068.4,855.6 C1069.72,859.32 1071.35,863 1072.2,866.7 C1073.05,870.4 1073.58,874.1 1073.5,877.8 C1073.42,881.5 1072.55,885.2 1071.7,888.9 C1070.85,892.6 1068.95,896.3 1068.4,900 C1067.85,903.7 1067.92,907.4 1068.4,911.1 C1068.88,914.8 1070.48,918.5 1071.3,922.2 C1072.12,925.9 1073.05,929.6 1073.3,933.3 C1073.55,937 1072.98,941.43 1072.8,944.4 C1072.62,947.37 1072.3,949.98 1072.2,951.1 L1047.8,951.1 C1047.7,949.98 1047.38,947.37 1047.2,944.4 C1047.02,941.43 1046.45,937 1046.7,933.3 C1046.95,929.6 1047.88,925.9 1048.7,922.2 C1049.52,918.5 1051.12,914.8 1051.6,911.1 C1052.08,907.4 1052.15,903.7 1051.6,900 C1051.05,896.3 1049.15,892.6 1048.3,888.9 C1047.45,885.2 1046.58,881.5 1046.5,877.8 C1046.42,874.1 1046.95,870.4 1047.8,866.7 C1048.65,863 1050.28,859.32 1051.6,855.6 C1052.92,851.88 1054.59,848.12 1055.74,844.4 C1056.89,840.68 1057.92,838.85 1058.5,833.3 C1059.08,827.75 1059.2,817.77 1059.2,811.1 C1059.2,804.43 1058.91,798.85 1058.5,793.3 C1058.09,787.75 1057.19,782.53 1056.73,777.8 C1056.27,773.07 1055.9,767.05 1055.74,764.9 Z" fill="#86FF80" stroke="#000" stroke-width="2.1" stroke-linejoin="round"/>
<line x1="1048.21" y1="872.2" x2="1071.79" y2="872.2" stroke="#000" stroke-width="1" stroke-dasharray="1 2.6" opacity="0.8"/>
<line x1="1048.15" y1="942.2" x2="1071.85" y2="942.2" stroke="#000" stroke-width="1" stroke-dasharray="1 2.6" opacity="0.8"/>
<line x1="1049.63" y1="892.7" x2="1070.37" y2="892.7" stroke="#000" stroke-width="1.9" stroke-dasharray="5.9 4.9"/>
<circle cx="1060" cy="764.9" r="2.6"/>
<circle cx="1060" cy="869.3" r="2.6"/>
<circle cx="1055.6" cy="877.8" r="2.6"/>
<circle cx="1064.4" cy="875.6" r="2.6"/>
<circle cx="1060" cy="892.9" r="2.6"/>
<circle cx="1060" cy="930" r="2.6"/>
<circle cx="1060" cy="937.8" r="2.6"/>
<circle cx="1055.6" cy="951.1" r="2.6"/>
<circle cx="1064.4" cy="947.8" r="2.6"/>
<path d="M1091.84,830.54 L1116.16,830.54 C1116.35,831.88 1117.3,835.75 1117.3,838.57 C1117.3,841.4 1116.75,845.01 1116.16,847.47 C1115.57,849.94 1114.65,851.38 1113.75,853.35 C1112.85,855.32 1111.37,857.04 1110.75,859.31 C1110.13,861.59 1109.95,864.54 1110.03,867 C1110.11,869.47 1110.84,871.91 1111.23,874.09 C1111.63,876.26 1112.13,878.24 1112.41,880.05 C1112.7,881.87 1112.86,884.16 1112.95,884.98 L1095.05,884.98 C1095.14,884.16 1095.3,881.87 1095.59,880.05 C1095.87,878.24 1096.37,876.26 1096.77,874.09 C1097.16,871.91 1097.89,869.47 1097.97,867 C1098.05,864.54 1097.87,861.59 1097.25,859.31 C1096.63,857.04 1095.15,855.32 1094.25,853.35 C1093.35,851.38 1092.43,849.94 1091.84,847.47 C1091.25,845.01 1090.7,841.4 1090.7,838.57 C1090.7,835.75 1091.65,831.88 1091.84,830.54 Z" fill="#F84242" stroke="#000" stroke-width="2.1" stroke-linejoin="round"/>
<line x1="1092.39" y1="848.34" x2="1115.61" y2="848.34" stroke="#000" stroke-width="1.9" stroke-dasharray="5.9 4.9"/>
<circle cx="1104" cy="830.54" r="2.6"/>
<circle cx="1104" cy="848.34" r="2.6"/>
<circle cx="1104" cy="885.24" r="2.6"/>
<path d="M1173.75,967.2 L1180.65,967.2 C1180.66,969.32 1180.59,975.28 1180.74,979.9 C1180.89,984.52 1181.19,989.92 1181.55,994.9 C1181.91,999.88 1182.29,1004.82 1182.9,1009.8 C1183.51,1014.78 1184.63,1019.82 1185.2,1024.8 C1185.77,1029.78 1186.41,1034.72 1186.3,1039.7 C1186.19,1044.68 1185.27,1049.72 1184.52,1054.7 C1183.77,1059.68 1182.32,1064.62 1181.82,1069.6 C1181.32,1074.58 1180.8,1079.62 1181.55,1084.6 C1182.3,1089.58 1184.86,1095.02 1186.3,1099.5 C1187.74,1103.98 1189.48,1108.88 1190.2,1111.5 C1190.92,1114.12 1190.53,1114.58 1190.6,1115.2 L1163.8,1115.2 C1163.87,1114.58 1163.48,1114.12 1164.2,1111.5 C1164.92,1108.88 1166.66,1103.98 1168.1,1099.5 C1169.54,1095.02 1172.1,1089.58 1172.85,1084.6 C1173.6,1079.62 1173.08,1074.58 1172.58,1069.6 C1172.09,1064.62 1170.63,1059.68 1169.88,1054.7 C1169.13,1049.72 1168.21,1044.68 1168.1,1039.7 C1167.99,1034.72 1168.63,1029.78 1169.2,1024.8 C1169.77,1019.82 1170.89,1014.78 1171.5,1009.8 C1172.11,1004.82 1172.49,999.88 1172.85,994.9 C1173.21,989.92 1173.51,984.52 1173.66,979.9 C1173.81,975.28 1173.74,969.32 1173.75,967.2 Z" fill="#109AB6" stroke="#000" stroke-width="2.1" stroke-linejoin="round"/>
<line x1="1169.9" y1="1029.5" x2="1184.5" y2="1029.5" stroke="#000" stroke-width="1" stroke-dasharray="1 2.6" opacity="0.8"/>
<circle cx="1177.2" cy="967.9" r="2.6"/>
<circle cx="1177.2" cy="977.7" r="2.6"/>
<circle cx="1177.2" cy="992.9" r="2.6"/>
<circle cx="1177.2" cy="1002.6" r="2.6"/>
<circle cx="1177.2" cy="1016.1" r="2.6"/>
<circle cx="1186.6" cy="1029.5" r="2.6"/>
<circle cx="1177.2" cy="1033.7" r="2.6"/>
<circle cx="1186.6" cy="1036.4" r="2.6"/>
<circle cx="1177.2" cy="1039.7" r="2.6"/>
<circle cx="1167.6" cy="1042.4" r="2.6"/>
<circle cx="1186.6" cy="1042.4" r="2.6"/>
<circle cx="1172.4" cy="1064.8" r="2.6"/>
<circle cx="1181.4" cy="1067.4" r="2.6"/>
<circle cx="1172.4" cy="1071.9" r="2.6"/>
<circle cx="1164.5" cy="1115.2" r="2.6"/>
<circle cx="1168.21" cy="1115.2" r="2.6"/>
<circle cx="1171.93" cy="1115.2" r="2.6"/>
<circle cx="1175.64" cy="1115.2" r="2.6"/>
<circle cx="1179.36" cy="1115.2" r="2.6"/>
<circle cx="1183.07" cy="1115.2" r="2.6"/>
<circle cx="1186.79" cy="1115.2" r="2.6"/>
<circle cx="1190.5" cy="1115.2" r="2.6"/>
<path d="M1208.8,814.9 L1233.4,814.9 C1233.48,816.48 1234.3,820.22 1233.9,824.4 C1233.5,828.58 1232.03,834.8 1231,840 C1229.97,845.2 1228.71,850.05 1227.7,855.6 C1226.68,861.15 1225,867.38 1224.91,873.3 C1224.82,879.22 1226.62,885.92 1227.16,891.1 C1227.7,896.28 1227.92,901.07 1228.15,904.4 C1228.38,907.73 1228.45,909.98 1228.51,911.1 L1213.69,911.1 C1213.75,909.98 1213.82,907.73 1214.05,904.4 C1214.28,901.07 1214.5,896.28 1215.04,891.1 C1215.58,885.92 1217.38,879.22 1217.29,873.3 C1217.2,867.38 1215.52,861.15 1214.5,855.6 C1213.48,850.05 1212.23,845.2 1211.2,840 C1210.17,834.8 1208.7,828.58 1208.3,824.4 C1207.9,820.22 1208.72,816.48 1208.8,814.9 Z" fill="#86FF80" stroke="#000" stroke-width="2.1" stroke-linejoin="round"/>
<line x1="1210.58" y1="835.6" x2="1231.62" y2="835.6" stroke="#000" stroke-width="1.9" stroke-dasharray="5.9 4.9"/>
<circle cx="1221.1" cy="814.9" r="2.6"/>
<circle cx="1221.1" cy="835.6" r="2.6"/>
<circle cx="1221.1" cy="911.6" r="2.6"/>
<path d="M1252.8,868.9 L1277.4,868.9 C1277.5,871.01 1278.13,877.46 1278,881.52 C1277.87,885.58 1277.49,888.35 1276.59,893.27 C1275.7,898.2 1273.65,905.66 1272.64,911.07 C1271.63,916.49 1271.05,921.83 1270.53,925.76 C1270,929.69 1269.76,931.54 1269.5,934.66 C1269.24,937.79 1268.85,940.05 1268.96,944.51 C1269.07,948.98 1269.57,955.79 1270.16,961.45 C1270.76,967.11 1271.69,972.81 1272.52,978.47 C1273.34,984.13 1274.46,989.75 1275.12,995.41 C1275.78,1001.07 1276.3,1007.62 1276.46,1012.43 C1276.62,1017.24 1276.21,1020.73 1276.06,1024.27 C1275.9,1027.81 1275.61,1032.12 1275.52,1033.69 L1254.68,1033.69 C1254.59,1032.12 1254.3,1027.81 1254.14,1024.27 C1253.99,1020.73 1253.58,1017.24 1253.74,1012.43 C1253.9,1007.62 1254.42,1001.07 1255.08,995.41 C1255.74,989.75 1256.86,984.13 1257.68,978.47 C1258.51,972.81 1259.44,967.11 1260.04,961.45 C1260.63,955.79 1261.13,948.98 1261.24,944.51 C1261.35,940.05 1260.96,937.79 1260.7,934.66 C1260.44,931.54 1260.2,929.69 1259.67,925.76 C1259.15,921.83 1258.57,916.49 1257.56,911.07 C1256.55,905.66 1254.5,898.2 1253.61,893.27 C1252.71,888.35 1252.33,885.58 1252.2,881.52 C1252.07,877.46 1252.7,871.01 1252.8,868.9 Z" fill="#F84242" stroke="#000" stroke-width="2.1" stroke-linejoin="round"/>
<line x1="1253.59" y1="874.35" x2="1276.61" y2="874.35" stroke="#000" stroke-width="1" stroke-dasharray="1 2.6" opacity="0.8"/>
<line x1="1255.22" y1="1024.7" x2="1274.98" y2="1024.7" stroke="#000" stroke-width="1" stroke-dasharray="1 2.6" opacity="0.8"/>
<line x1="1261.42" y1="944.17" x2="1268.78" y2="944.17" stroke="#000" stroke-width="1.9" stroke-dasharray="5.9 4.9"/>
<circle cx="1265.1" cy="868.9" r="2.6"/>
<circle cx="1265.1" cy="891.11" r="2.6"/>
<circle cx="1265.1" cy="997.48" r="2.6"/>
<circle cx="1265.1" cy="1034.21" r="2.6"/>
<path d="M1334.59,975.7 L1342.21,975.7 C1342.26,978.08 1342.22,984.68 1342.48,990 C1342.74,995.32 1343.14,1001.75 1343.74,1007.6 C1344.34,1013.45 1345.41,1019.27 1346.1,1025.1 C1346.79,1030.93 1348.16,1036.77 1347.9,1042.6 C1347.64,1048.43 1345.63,1054.27 1344.55,1060.1 C1343.47,1065.93 1341.14,1071.77 1341.4,1077.6 C1341.66,1083.43 1344.52,1089.85 1346.1,1095.1 C1347.68,1100.35 1350.02,1105.78 1350.9,1109.1 C1351.78,1112.42 1351.32,1114.02 1351.4,1115 L1325.4,1115 C1325.48,1114.02 1325.02,1112.42 1325.9,1109.1 C1326.78,1105.78 1329.12,1100.35 1330.7,1095.1 C1332.28,1089.85 1335.14,1083.43 1335.4,1077.6 C1335.66,1071.77 1333.33,1065.93 1332.25,1060.1 C1331.17,1054.27 1329.16,1048.43 1328.9,1042.6 C1328.64,1036.77 1330.01,1030.93 1330.7,1025.1 C1331.39,1019.27 1332.46,1013.45 1333.06,1007.6 C1333.66,1001.75 1334.07,995.32 1334.32,990 C1334.58,984.68 1334.55,978.08 1334.59,975.7 Z" fill="#109AB6" stroke="#000" stroke-width="2.1" stroke-linejoin="round"/>
<line x1="1332.05" y1="1058" x2="1344.75" y2="1058" stroke="#000" stroke-width="1.9" stroke-dasharray="5.9 4.9"/>
<circle cx="1338.4" cy="976" r="2.6"/>
<circle cx="1338.4" cy="1005.5" r="2.6"/>
<circle cx="1338.4" cy="1030" r="2.6"/>
<circle cx="1334" cy="1045.7" r="2.6"/>
<circle cx="1343.3" cy="1045.7" r="2.6"/>
<circle cx="1338.4" cy="1058.4" r="2.6"/>
<circle cx="1326.1" cy="1115" r="2.6"/>
<circle cx="1332.38" cy="1115" r="2.6"/>
<circle cx="1338.65" cy="1115" r="2.6"/>
<circle cx="1344.92" cy="1115" r="2.6"/>
<circle cx="1351.2" cy="1115" r="2.6"/>
<rect x="1368.8" y="954" width="27.6" height="3.9" fill="#000" rx="0.8"/>
<circle cx="1387.1" cy="953.6" r="2.6"/>
<circle cx="1378.1" cy="957.9" r="2.6"/>
<path d="M986.8,706 L986.8,1140.8 L1457.8,1140.8" fill="none" stroke="#000" stroke-width="2.9" stroke-linejoin="miter" stroke-linecap="butt"/>
<line x1="976.8" y1="1115.2" x2="986.8" y2="1115.2" stroke="#000" stroke-width="2.9"/>
<text x="973.3" y="1121.46" font-size="17.4" font-weight="bold" text-anchor="end" fill="#000">0.0</text>
<line x1="976.8" y1="960.3" x2="986.8" y2="960.3" stroke="#000" stroke-width="2.9"/>
<text x="973.3" y="966.56" font-size="17.4" font-weight="bold" text-anchor="end" fill="#000">0.3</text>
<line x1="976.8" y1="805.2" x2="986.8" y2="805.2" stroke="#000" stroke-width="2.9"/>
<text x="973.3" y="811.46" font-size="17.4" font-weight="bold" text-anchor="end" fill="#000">0.6</text>
<text x="940.1" y="923.6" font-size="18.5" font-weight="bold" text-anchor="middle" transform="rotate(-90 940.1 923.6)" fill="#000">Signature 3</text>
<text x="1061" y="1165.6" font-size="17.3" font-weight="bold" text-anchor="middle" fill="#000">ER+HER2- (n=43)</text>
<text x="1222.6" y="1165.6" font-size="17.3" font-weight="bold" text-anchor="middle" fill="#000">ER-HER2- (n=30)</text>
<text x="1383.7" y="1165.6" font-size="17.3" font-weight="bold" text-anchor="middle" fill="#000">HER2+ (n=13)</text>
<line x1="1019.2" y1="716.8" x2="1105.9" y2="716.8" stroke="#000" stroke-width="2.1"/>
<text x="1057.4" y="714.73" font-size="21.4" text-anchor="middle" fill="#000">*</text>
<line x1="1056.5" y1="736.7" x2="1105.9" y2="736.7" stroke="#000" stroke-width="2.1"/>
<text x="1080.7" y="733" font-size="18.9" text-anchor="middle" fill="#000">ns</text>
<line x1="1010.4" y1="750.5" x2="1059.5" y2="750.5" stroke="#000" stroke-width="2.6"/>
<text x="1034.5" y="749.63" font-size="21.4" text-anchor="middle" fill="#000">*</text>
<line x1="1182.8" y1="760" x2="1268.9" y2="760" stroke="#000" stroke-width="2.1"/>
<text x="1220.9" y="757.93" font-size="21.4" text-anchor="middle" fill="#000">*</text>
<line x1="1220.1" y1="779.9" x2="1268.9" y2="779.9" stroke="#000" stroke-width="2.1"/>
<text x="1244" y="776.2" font-size="18.9" text-anchor="middle" fill="#000">ns</text>
<line x1="1174" y1="793.9" x2="1222.8" y2="793.9" stroke="#000" stroke-width="2.1"/>
<text x="1197.8" y="792.53" font-size="21.4" text-anchor="middle" fill="#000">*</text>
<line x1="1330.7" y1="938.9" x2="1379.5" y2="938.9" stroke="#000" stroke-width="2.1"/>
<text x="1354.7" y="938.63" font-size="21.4" text-anchor="middle" fill="#000">*</text>
<rect x="1464.65" y="905.45" width="21.1" height="9.9" fill="#109AB6" stroke="#000" stroke-width="2.3"/>
<text x="1500.6" y="916.2" font-size="18.8" text-anchor="start" fill="#111">BRCA1/2 WT S3 low (n=65)</text>
<rect x="1464.65" y="936.75" width="21.1" height="8.7" fill="#86FF80" stroke="#000" stroke-width="2.3"/>
<text x="1500.6" y="946.6" font-size="18.8" text-anchor="start" fill="#111">BRCA1/2 WT S3 high (n=14)</text>
<rect x="1464.65" y="966.85" width="21.1" height="8.8" fill="#F84242" stroke="#000" stroke-width="2.3"/>
<text x="1500.6" y="976.5" font-size="18.8" text-anchor="start" fill="#111">BRCA1/2 mutated (n=7)</text>
</svg>
</body></html>
